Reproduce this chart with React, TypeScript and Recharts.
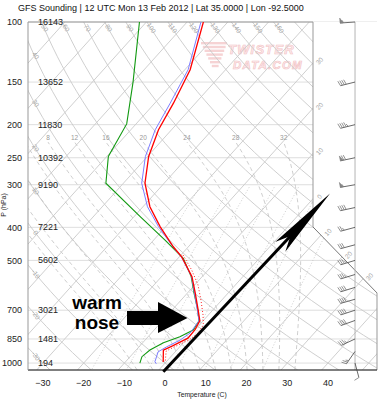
import React from 'react';
import { ComposedChart, Line, Area, XAxis, YAxis, CartesianGrid, ReferenceLine, ReferenceDot } from 'recharts';

// sounding: pressure (hPa) and temperature (C)
const tempP = [100, 138, 173, 207, 248, 297, 348, 398, 456, 489, 558, 623, 699, 752, 800, 845, 889, 916, 993];
const tempC = [-66.0, -58.7, -55.4, -53.2, -49.7, -44.7, -38.3, -31.4, -23.7, -19.3, -12.5, -8.1, -3.6, -0.8, 0.0, 0.1, -1.9, -3.3, -0.7];

const wetbulbP = [100, 138, 173, 207, 248, 297, 348, 398, 456, 489, 558, 623, 699, 752, 817, 856, 896, 927, 991, 1005];
const wetbulbC = [-66.6, -59.2, -56.2, -54.0, -50.5, -45.5, -38.9, -31.8, -23.8, -19.4, -12.6, -8.3, -3.8, -1.0, -0.5, -1.4, -3.2, -4.2, -2.8, -2.0];

const dewP = [100, 150, 199, 248, 297, 372, 436, 493, 558, 623, 699, 752, 800, 837, 872, 916, 958, 1000];
const dewC = [-81.7, -70.0, -62.3, -59.6, -54.3, -38.5, -27.2, -18.7, -12.7, -8.4, -3.7, -1.0, -0.4, -2.2, -4.9, -6.6, -7.1, -6.2];

const parcelP = [482, 534, 590, 654, 723, 774, 817, 856, 892, 922, 993];
const parcelC = [-19.5, -14.0, -9.2, -5.1, -1.3, 1.0, 1.4, 0.8, -1.1, -2.4, -0.2];

const heightP = [100, 150, 200, 250, 300, 400, 500, 700, 850, 1000];
const heightM = ['16143', '13652', '11830', '10392', '9190', '7221', '5602', '3021', '1481', '194'];

const windP = [100, 150, 200, 250, 300, 350, 400, 450, 500, 550, 600, 650, 700, 750, 850, 925, 1000];
const windDir = [266, 256, 256, 258, 260, 258, 255, 255, 253, 253, 253, 254, 252, 250, 245, 215, 165];
const windKt = [55, 40, 45, 70, 55, 40, 25, 30, 35, 35, 40, 40, 40, 40, 35, 25, 10];

const pressureTicks = [100, 150, 200, 250, 300, 400, 500, 700, 850, 1000];
const tempTicks = [-30, -20, -10, 0, 10, 20, 30, 40];

// background diagram lines
const isotherms = [-110, -100, -90, -80, -70, -60, -50, -40, -30, -20, -10, 0, 10, 20, 30, 40, 50];
const dryAdiabats = [-40, -30, -20, -10, 0, 10, 20, 30, 40, 50, 60, 70, 80, 90, 100, 110, 120, 130, 140, 150, 160, 170];
const moistAdiabats = [-8, -4, 0, 4, 8, 12, 16, 20, 24, 28, 32];
const mixingRatios = [1, 2, 3, 5, 8, 12, 20];
const dryLabelsTop = [50, 60, 70, 80, 90, 100, 110, 120, 130, 140, 150, 160];
const dryLabelsLeft = [40, 30, 20, 10, 0, -10, -20, -30];
const isothermLabels = [-30, -20, -10, 0, 10, 20, 30];
const moistLabels = [8, 12, 16, 20, 24, 28, 32];

const SKEW = 75.4;
const X_MIN = -33.68;
const X_MAX = 52.05;
const P_TOP = 100;
const P_BOT = 1048;
const X_CUT = 36.33;
const P_CUT_TOP = 399;
const P_CUT_BOT = 623;
const BARB_X = 46.65;
const MOIST_TOP = 225;
const MIX_TOP = 300;

const skewX = (t: number, p: number) => t + SKEW * Math.log10(1000 / p);
const dryT = (th: number, p: number) => (th + 273.15) * Math.pow(p / 1000, 0.2857) - 273.15;

const samples: number[] = [];
for (let i = 0; i <= 40; i++) samples.push(P_TOP * Math.pow(P_BOT / P_TOP, i / 40));

const moistRate = (T: number, p: number) => {
  const tc = T - 273.15;
  const es = 6.112 * Math.exp((17.67 * tc) / (tc + 243.5));
  const rs = (0.622 * es) / (p - es);
  return (287.04 * T + 2.501e6 * rs) / (1005.7 + (2.501e6 * 2.501e6 * rs * 0.622) / (287.04 * T * T));
};

const integrate = (T0: number, p0: number, p1: number, n: number) => {
  const out: { T: number; p: number }[] = [];
  let T = T0;
  let p = p0;
  const dl = (Math.log(p1) - Math.log(p0)) / n;
  for (let i = 0; i < n; i++) {
    const k1 = moistRate(T, p);
    const k2 = moistRate(T + (k1 * dl) / 2, p * Math.exp(dl / 2));
    T += k2 * dl;
    p *= Math.exp(dl);
    out.push({ T, p });
  }
  return out;
};

const moistPath = (tw: number) => {
  const T0 = tw + 273.15;
  const down = integrate(T0, 1000, P_BOT, 4).reverse();
  const up = integrate(T0, 1000, MOIST_TOP, 50);
  return [...down, { T: T0, p: 1000 }, ...up].map((d) => ({ p: d.p, x: skewX(d.T - 273.15, d.p) }));
};

const tdFromW = (w: number, p: number) => {
  const e = (w * p) / (622 + w);
  const l = Math.log(e / 6.112);
  return (243.5 * l) / (17.67 - l);
};

const inside = (x: number, p: number) => {
  if (x <= X_CUT) return true;
  if (x > X_MAX) return false;
  const t = (x - X_CUT) / (X_MAX - X_CUT);
  const lp = Math.log(P_CUT_TOP) + t * (Math.log(P_CUT_BOT) - Math.log(P_CUT_TOP));
  return Math.log(p) >= lp;
};

const isothermExit = (t: number) => {
  let last = P_BOT;
  for (let i = 0; i <= 400; i++) {
    const p = P_BOT * Math.pow(P_TOP / P_BOT, i / 400);
    if (!inside(skewX(t, p), p)) return last;
    last = p;
  }
  return P_TOP;
};

const leftCrossing = (th: number) => {
  const target = X_MIN + 1.2;
  let lo = Math.log(P_TOP);
  let hi = Math.log(P_BOT);
  for (let i = 0; i < 40; i++) {
    const mid = (lo + hi) / 2;
    const p = Math.exp(mid);
    if (skewX(dryT(th, p), p) < target) lo = mid;
    else hi = mid;
  }
  return Math.exp(lo);
};

const toXY = (ps: number[], ts: number[]) => ps.map((p, i) => ({ p, x: skewX(ts[i], p) }));

const GRID = '#c9c9c9';
const LABEL = '#a8a8a8';

const Barb = ({ cx, cy, dir, spd }: { cx: number; cy: number; dir: number; spd: number }) => {
  const r = (dir * Math.PI) / 180;
  const ux = Math.sin(r);
  const uy = -Math.cos(r);
  const px = -uy;
  const py = ux;
  const L = 15;
  const ex = cx + ux * L;
  const ey = cy + uy * L;
  const flags: string[] = [];
  let rest = Math.round(spd / 5) * 5;
  while (rest >= 50) { flags.push('P'); rest -= 50; }
  while (rest >= 10) { flags.push('F'); rest -= 10; }
  if (rest >= 5) flags.push('H');
  let d = flags.length === 1 && flags[0] === 'H' ? 2 : 0;
  const marks = flags.map((f, i) => {
    const bx = ex - ux * d;
    const by = ey - uy * d;
    if (f === 'P') {
      d += 3.5;
      const pts = `${bx},${by} ${bx + px * 5},${by + py * 5} ${bx - ux * 3},${by - uy * 3}`;
      return <polygon key={i} points={pts} fill="#888" stroke="#777" strokeWidth={0.5} />;
    }
    const len = f === 'F' ? 5 : 2.8;
    d += 2;
    return <line key={i} x1={bx} y1={by} x2={bx + px * len + ux * 1.5} y2={by + py * len + uy * 1.5} stroke="#777" strokeWidth={0.8} />;
  });
  return (
    <g>
      <line x1={cx} y1={cy} x2={ex} y2={ey} stroke="#444" strokeWidth={0.8} />
      {marks}
    </g>
  );
};

const textAt = (label: string, dx: number, dy: number, rot: number, size: number, fill: string, anchor = 'middle') =>
  (props: any) => {
    const x = props.cx + dx;
    const y = props.cy + dy;
    return (
      <text x={x} y={y} fontSize={size} fill={fill} textAnchor={anchor} dominantBaseline="central" transform={rot ? `rotate(${rot} ${x} ${y})` : undefined}>
        {label}
      </text>
    );
  };

export default function App() {
  const tempData = toXY(tempP, tempC);
  const wetbulbData = toXY(wetbulbP, wetbulbC);
  const dewData = toXY(dewP, dewC);
  const parcelData = toXY(parcelP, parcelC);
  const maskData = [{ x: X_CUT, p: P_CUT_TOP }, { x: X_MAX, p: P_CUT_BOT }];

  return (
    <div style={{ position: 'absolute', left: 0, top: 0, width: 383, height: 400, background: '#fff', fontFamily: '"Liberation Sans", Arial, sans-serif' }}>
      {/* watermark behind the diagram */}
      <svg width={383} height={400} style={{ position: 'absolute', left: 0, top: 0 }}>
        <g fill="#f6d3d4">
          {[0, 1, 2, 3, 4, 5, 6].map((i) => (
            <rect key={i} x={201 + i * 1.8} y={42 + i * 3.8} width={26 - i * 3.2} height={2.4} />
          ))}
        </g>
        <text x={228} y={54} fontSize={13} fontWeight="bold" fontStyle="italic" fill="#fdeced" stroke="#f2c2c4" strokeWidth={0.6} letterSpacing={1.2}>TWISTER</text>
        <text x={233} y={69} fontSize={11.5} fontWeight="bold" fontStyle="italic" fill="#fdeced" stroke="#f2c2c4" strokeWidth={0.6} letterSpacing={1.2}>DATA.COM</text>
      </svg>

      <div style={{ position: 'absolute', left: 0, top: 0 }}>
        <ComposedChart width={383} height={400} margin={{ top: 22, right: 6, bottom: 0, left: 0 }}>
          <CartesianGrid vertical={false} stroke="#d6d6d6" strokeWidth={0.8} />
          <XAxis
            type="number"
            dataKey="x"
            domain={[X_MIN, X_MAX]}
            allowDataOverflow
            ticks={tempTicks}
            interval={0}
            height={30}
            tickLine={false}
            tickSize={6}
            tickMargin={4}
            axisLine={{ stroke: '#111', strokeWidth: 1 }}
            tick={{ fontSize: 9, fill: '#222' }}
            tickFormatter={(v: number) => (v < 0 ? '\u2212' + Math.abs(v) : String(v))}
          />
          <YAxis
            type="number"
            dataKey="p"
            scale="log"
            domain={[P_TOP, P_BOT]}
            allowDataOverflow
            reversed
            ticks={pressureTicks}
            interval={0}
            width={28}
            tickLine={false}
            tickSize={5}
            tickMargin={1}
            axisLine={{ stroke: '#999' }}
            tick={{ fontSize: 9, fill: '#222' }}
          />

          {isotherms.map((t) => (
            <Line key={'it' + t} data={[{ p: P_BOT, x: skewX(t, P_BOT) }, { p: P_TOP, x: skewX(t, P_TOP) }]} dataKey="p" type="linear" stroke={GRID} strokeWidth={0.9} dot={false} activeDot={false} isAnimationActive={false} zIndex={300} />
          ))}
          {dryAdiabats.map((th) => (
            <Line key={'da' + th} data={samples.map((p) => ({ p, x: skewX(dryT(th, p), p) }))} dataKey="p" type="linear" stroke={GRID} strokeWidth={0.9} dot={false} activeDot={false} isAnimationActive={false} zIndex={300} />
          ))}
          {moistAdiabats.map((tw) => (
            <Line key={'ma' + tw} data={moistPath(tw)} dataKey="p" type="linear" stroke="#c2c2c2" strokeWidth={0.8} strokeDasharray="4 3" dot={false} activeDot={false} isAnimationActive={false} zIndex={300} />
          ))}
          {mixingRatios.map((w) => (
            <Line key={'mr' + w} data={samples.filter((p) => p >= MIX_TOP).map((p) => ({ p, x: skewX(tdFromW(w, p), p) }))} dataKey="p" type="linear" stroke="#c2c2c2" strokeWidth={0.8} strokeDasharray="1 2" dot={false} activeDot={false} isAnimationActive={false} zIndex={300} />
          ))}

          {/* blank the corner above the cut edge */}
          <Area data={maskData} dataKey="p" type="linear" baseValue={P_TOP} fill="#fff" fillOpacity={1} stroke="none" isAnimationActive={false} zIndex={350} />

          <ReferenceLine segment={[{ x: X_MIN, y: P_TOP }, { x: X_CUT, y: P_TOP }]} stroke="#999" strokeWidth={1} ifOverflow="visible" zIndex={360} />
          <ReferenceLine segment={[{ x: X_CUT, y: P_TOP }, { x: X_CUT, y: P_CUT_TOP }]} stroke="#999" strokeWidth={1} ifOverflow="visible" zIndex={360} />
          <ReferenceLine segment={[{ x: X_CUT, y: P_CUT_TOP }, { x: X_MAX, y: P_CUT_BOT }]} stroke="#555" strokeWidth={0.8} ifOverflow="visible" zIndex={360} />
          <ReferenceLine segment={[{ x: X_MAX, y: P_CUT_BOT }, { x: X_MAX, y: P_BOT }]} stroke="#999" strokeWidth={1} ifOverflow="visible" zIndex={360} />
          <ReferenceLine segment={[{ x: BARB_X, y: P_TOP }, { x: BARB_X, y: P_BOT }]} stroke="#b4b4b4" strokeWidth={1} ifOverflow="visible" zIndex={360} />

          {dryLabelsTop.map((th) => (
            <ReferenceDot key={'lt' + th} x={skewX(dryT(th, 104), 104)} y={104} ifOverflow="visible" zIndex={370} shape={textAt(String(th), 1, 0, 55, 6.5, LABEL)} />
          ))}
          {dryLabelsLeft.map((th) => {
            const p = leftCrossing(th);
            return <ReferenceDot key={'ll' + th} x={skewX(dryT(th, p), p)} y={p} ifOverflow="visible" zIndex={370} shape={textAt(String(th), 3, 3, 55, 6.5, LABEL)} />;
          })}
          {isothermLabels.map((t) => {
            const p = isothermExit(t);
            return <ReferenceDot key={'il' + t} x={skewX(t, p)} y={p} ifOverflow="visible" zIndex={370} shape={textAt(String(Math.abs(t)), 7, -3, -48, 6.5, LABEL)} />;
          })}
          {moistLabels.map((tw) => {
            const path = moistPath(tw);
            const end = path[path.length - 1];
            return <ReferenceDot key={'ml' + tw} x={end.x} y={end.p} ifOverflow="visible" zIndex={370} shape={textAt(String(tw), 0, -5, 0, 6.5, '#999')} />;
          })}
          {heightP.map((p, i) => (
            <ReferenceDot key={'h' + p} x={X_MIN} y={p} ifOverflow="visible" zIndex={370} shape={textAt(heightM[i], 10, 0, 0, 9, '#222', 'start')} />
          ))}

          <Line data={dewData} dataKey="p" type="linear" stroke="#119911" strokeWidth={1.1} dot={false} activeDot={false} isAnimationActive={false} zIndex={400} />
          <Line data={wetbulbData} dataKey="p" type="linear" stroke="#7d7dff" strokeWidth={1} dot={false} activeDot={false} isAnimationActive={false} zIndex={400} />
          <Line data={parcelData} dataKey="p" type="linear" stroke="#ff2222" strokeWidth={1} strokeDasharray="1 2" dot={false} activeDot={false} isAnimationActive={false} zIndex={400} />
          <Line data={tempData} dataKey="p" type="linear" stroke="#ff0000" strokeWidth={1.3} dot={false} activeDot={false} isAnimationActive={false} zIndex={400} />

          {windP.map((p, i) => (
            <ReferenceDot key={'w' + p} x={BARB_X} y={p} ifOverflow="visible" zIndex={650}
              shape={(pr: any) => <Barb cx={pr.cx} cy={pr.cy} dir={windDir[i]} spd={windKt[i]} />} />
          ))}
        </ComposedChart>
      </div>

      {/* title, axis titles and the hand-drawn annotation */}
      <svg width={383} height={400} style={{ position: 'absolute', left: 0, top: 0, pointerEvents: 'none' }}>
        <text x={18} y={11} fontSize={9} fill="#111">GFS Sounding | 12 UTC Mon 13 Feb 2012 | Lat 35.0000 | Lon -92.5000</text>
        <text x={5.5} y={205} fontSize={7} fill="#222" textAnchor="middle" transform="rotate(-90 5.5 205)">P (hPa)</text>
        <text x={202} y={397} fontSize={6.8} fill="#222" textAnchor="middle">Temperature (C)</text>
        <text x={97} y={308.5} fontSize={19} fontWeight="bold" fill="#000" textAnchor="middle">warm</text>
        <text x={97} y={328.5} fontSize={19} fontWeight="bold" fill="#000" textAnchor="middle">nose</text>
        <polygon points="127,311 158,311 158,302 187.5,318 158,333 158,325 127,325" fill="#000" />
        <line x1={163.3} y1={371.7} x2={291} y2={235.5} stroke="#000" strokeWidth={3} />
        <polygon points="330,193.5 275.1,242.1 290.4,235.9 285.3,251.7" fill="#000" />
      </svg>
    </div>
  );
}
